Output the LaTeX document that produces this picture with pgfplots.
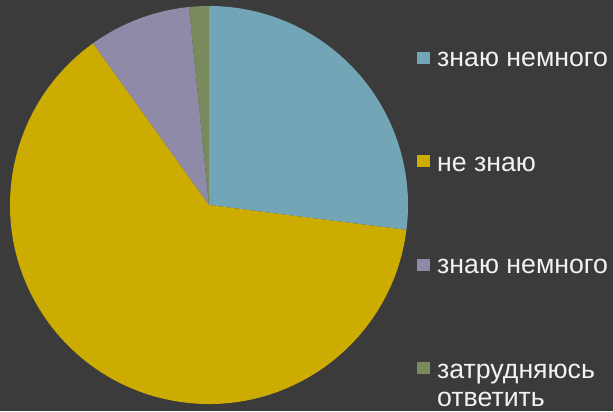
\documentclass[border=0pt]{standalone}
\usepackage{pgfplots}
\usepackage{pgfplotstable}
\pgfplotsset{compat=1.18}
\usepackage{fontspec}
\setmainfont{Liberation Sans}
\definecolor{bg}{HTML}{3B3B3B}
\definecolor{cA}{HTML}{72A6B6}
\definecolor{cB}{HTML}{CDAC02}
\definecolor{cC}{HTML}{8E8AA8}
\definecolor{cD}{HTML}{798B5C}
\definecolor{txt}{HTML}{F2F2F2}
\pgfplotstableread{
label value
a 27.0
b 63.1
c 8.3
d 1.6
}\piedata
\begin{document}
\begin{tikzpicture}[x=1bp,y=1bp]
\fill[bg] (0,0) rectangle (613,411);
\useasboundingbox (0,0) rectangle (613,411);
\begin{axis}[hide axis, scale only axis, x=199bp, y=199bp,
  xmin=-1, xmax=1, ymin=-1, ymax=1,
  anchor=center, at={(209bp,206bp)}, clip=false]
\addplot[draw=none] coordinates {(-1,-1) (1,1)};
\pgfplotsextra{
  \xdef\cum{90}
  \foreach \i/\col in {0/cA,1/cB,2/cC,3/cD}{
    \pgfplotstablegetelem{\i}{value}\of\piedata
    \pgfmathsetmacro\endang{\cum-3.6*\pgfplotsretval}
    \fill[\col] (axis cs:0,0) -- (axis cs:{cos(\cum)},{sin(\cum)})
      arc[start angle=\cum, end angle=\endang, radius=199bp] -- cycle;
    \xdef\cum{\endang}
  }
}
\end{axis}
\begin{scope}[every node/.style={font=\fontsize{26.8}{28}\selectfont, text=txt, inner sep=0pt, anchor=base west}]
\fill[cA] (417,347) rectangle (430,359);
\node at (437,345) {знаю немного};
\fill[cB] (417,244) rectangle (430,256);
\node at (437,240) {не знаю};
\fill[cC] (417,140) rectangle (430,152);
\node at (437,138) {знаю немного};
\fill[cD] (417,37) rectangle (430,49);
\node at (437,33) {затрудняюсь};
\node at (437,5) {ответить};
\end{scope}
\end{tikzpicture}
\end{document}
